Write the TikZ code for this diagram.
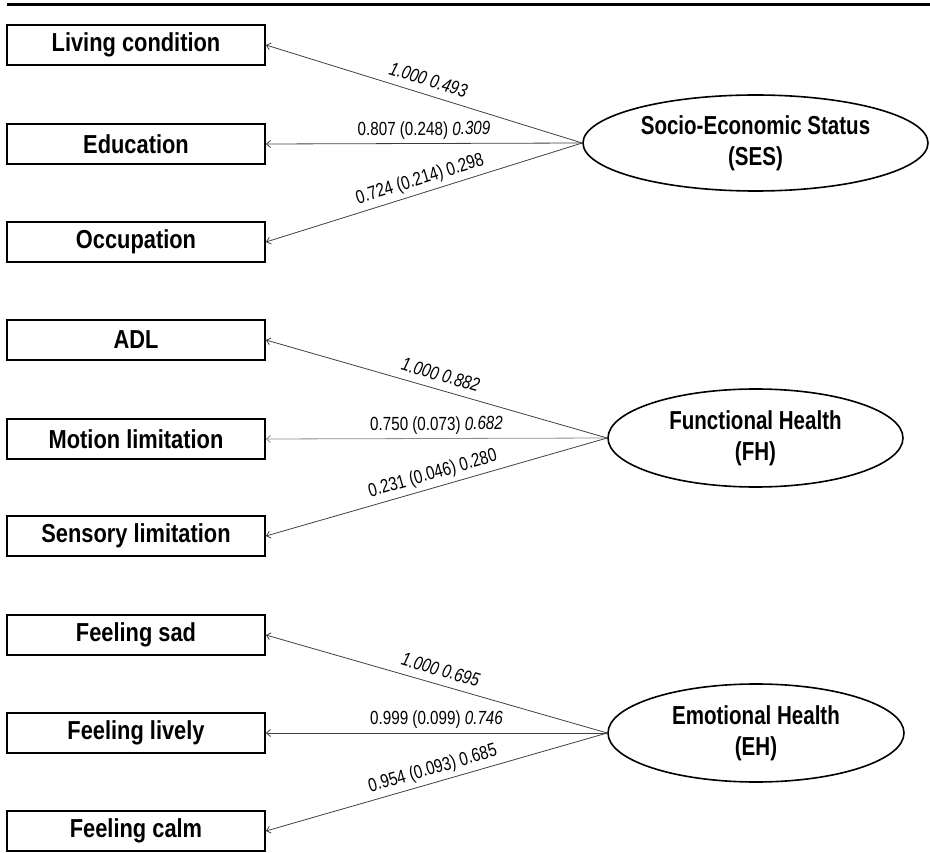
\documentclass[tikz,border=0pt]{standalone}
\usepackage{fontspec}
\setmainfont{Liberation Sans}
\newfontfamily\boxfont[FakeStretch=0.84]{Liberation Sans}
\newfontfamily\ellfont[FakeStretch=0.79]{Liberation Sans}
\newfontfamily\labfont[FakeStretch=0.8]{Liberation Sans}
\usetikzlibrary{shapes.geometric,arrows.meta}
\begin{document}
\begin{tikzpicture}[x=1pt,y=-1pt,
  obsbox/.style={draw, line width=1.8pt, minimum width=258pt, minimum height=40pt, inner sep=0pt,
    font=\boxfont\bfseries\fontsize{26}{30}\selectfont},
  latent/.style={ellipse, draw, line width=1.6pt, inner sep=0pt, align=center,
    font=\ellfont\bfseries\fontsize{26}{31}\selectfont},
  loadarrow/.style={draw=black!75, line width=0.8pt, -{Straight Barb[length=4pt,width=7pt]}},
  lab/.style={above=2pt, sloped, inner sep=2pt, text depth=4pt,
    font=\labfont\fontsize{19}{22}\selectfont}
]
\useasboundingbox (0,0) rectangle (930,853);
\draw[line width=3pt] (7,5) -- (930,5);

% observed indicators
\node[obsbox] (lc)  at (136,45)  {Living condition};
\node[obsbox] (ed)  at (136,144) {Education};
\node[obsbox] (oc)  at (136,242) {Occupation};
\node[obsbox] (adl) at (136,340) {ADL};
\node[obsbox] (ml)  at (136,439) {Motion limitation};
\node[obsbox] (sl)  at (136,536) {Sensory limitation};
\node[obsbox] (fs)  at (136,635) {Feeling sad};
\node[obsbox] (fl)  at (136,733) {Feeling lively};
\node[obsbox] (fc)  at (136,831) {Feeling calm};

% latent variables
\node[latent, minimum width=345pt, minimum height=96pt] (ses) at (755.5,143) {Socio-Economic Status\\(SES)};
\node[latent, minimum width=295pt, minimum height=98pt] (fh)  at (755.5,438) {Functional Health\\(FH)};
\node[latent, minimum width=296pt, minimum height=98pt] (eh)  at (756,733) {Emotional Health\\(EH)};

% loadings
\draw[loadarrow] (ses.west) -- node[lab]{\itshape 1.000 0.493} (lc.east);
\draw[loadarrow] (ses.west) -- node[lab]{0.807 (0.248) \textit{0.309}} (ed.east);
\draw[loadarrow] (ses.west) -- node[lab]{0.724 (0.214) 0.298} (oc.east);

\draw[loadarrow] (fh.west) -- node[lab]{\itshape 1.000 0.882} (adl.east);
\draw[loadarrow, draw=black!45] (fh.west) -- node[lab]{0.750 (0.073) \textit{0.682}} (ml.east);
\draw[loadarrow] (fh.west) -- node[lab]{0.231 (0.046) 0.280} (sl.east);

\draw[loadarrow] (eh.west) -- node[lab]{\itshape 1.000 0.695} (fs.east);
\draw[loadarrow] (eh.west) -- node[lab]{0.999 (0.099) \textit{0.746}} (fl.east);
\draw[loadarrow] (eh.west) -- node[lab]{0.954 (0.093) 0.685} (fc.east);
\end{tikzpicture}
\end{document}
